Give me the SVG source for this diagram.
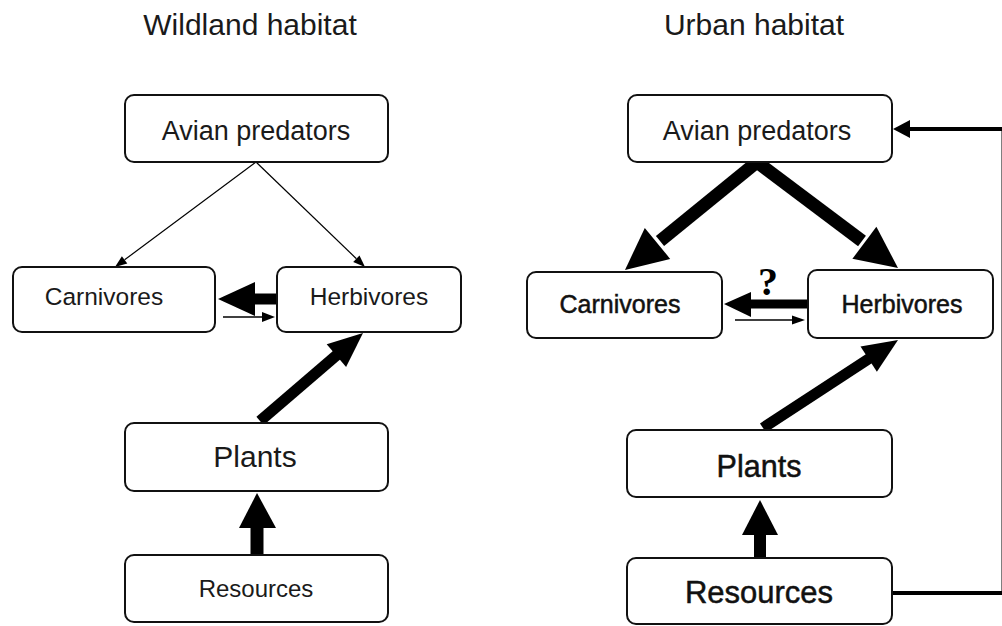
<svg xmlns="http://www.w3.org/2000/svg" width="1002" height="626" viewBox="0 0 1002 626">
<style>
.box{fill:#fff;stroke:#111;stroke-width:2}
.t{font-family:"Liberation Sans",Arial,sans-serif;fill:#1a1a1a;text-anchor:middle}
.tb{font-family:"Liberation Sans",Arial,sans-serif;fill:#111;text-anchor:middle;stroke:#111;stroke-width:0.5}
.ln{stroke:#000;fill:none}
.hd{fill:#000}
</style>
<rect width="1002" height="626" fill="#fff"/>
<text class="t" x="250" y="35" font-size="30">Wildland habitat</text>
<text class="t" x="754" y="35" font-size="30">Urban habitat</text>

<g id="connectors">
  <!-- left -->
  <line class="ln" x1="256" y1="162" x2="124.6" y2="259.8" stroke-width="1.2"/>
  <polygon class="hd" points="115,267 127.3,263.4 121.9,256.2"/>
  <line class="ln" x1="256" y1="162" x2="356.4" y2="258.7" stroke-width="1.2"/>
  <polygon class="hd" points="365,267 353.2,261.9 359.5,255.4"/>
  <line class="ln" x1="277" y1="299" x2="250" y2="299" stroke-width="11"/>
  <polygon class="hd" points="218,299 255,282 255,316"/>
  <line class="ln" x1="223" y1="317" x2="263" y2="317" stroke-width="1.5"/>
  <polygon class="hd" points="275,317 262,312 262,322"/>
  <line class="ln" x1="260" y1="421" x2="338" y2="354" stroke-width="11"/>
  <polygon class="hd" points="363,333 346.1,367.1 326.7,344.3"/>
  <line class="ln" x1="257" y1="555" x2="257" y2="526" stroke-width="13"/>
  <polygon class="hd" points="257,493 239,528 276,528"/>
  <!-- right -->
  <line class="ln" x1="757" y1="162" x2="660" y2="241" stroke-width="13"/>
  <polygon class="hd" points="625,270 670.2,258.9 644.8,227.9"/>
  <line class="ln" x1="757" y1="162" x2="862" y2="241" stroke-width="13"/>
  <polygon class="hd" points="898,268 852.4,258.8 876.4,226.8"/>
  <line class="ln" x1="808" y1="304" x2="748" y2="304" stroke-width="9"/>
  <polygon class="hd" points="724,304 751,292 751,317"/>
  <line class="ln" x1="735" y1="320" x2="793" y2="320" stroke-width="1.5"/>
  <polygon class="hd" points="805,320 792,315.5 792,324.5"/>
  <line class="ln" x1="763" y1="428" x2="870" y2="358" stroke-width="11"/>
  <polygon class="hd" points="898,340 876.9,371.7 860.5,346.5"/>
  <line class="ln" x1="760" y1="558" x2="760" y2="533" stroke-width="12"/>
  <polygon class="hd" points="760,500 742,535 778,535"/>
  <path class="ln" d="M892,593 H1003.5 V129 H906" stroke-width="4"/>
  <polygon class="hd" points="893,129 910,120 910,138"/>
  <text x="768" y="295" font-family="'Liberation Serif','Times New Roman',serif" font-weight="bold" font-size="40" text-anchor="middle" fill="#000">?</text>
</g>

<g id="w-avian"><rect class="box" x="125" y="95" width="263" height="67" rx="9"/><text class="t" x="256" y="140" font-size="27">Avian predators</text></g>
<g id="w-carnivores"><rect class="box" x="13" y="267" width="202" height="65" rx="9"/><text class="t" x="104" y="305" font-size="24.5">Carnivores</text></g>
<g id="w-herbivores"><rect class="box" x="277" y="267" width="184" height="65" rx="9"/><text class="t" x="369" y="305" font-size="24.5">Herbivores</text></g>
<g id="w-plants"><rect class="box" x="125" y="423" width="263" height="68" rx="9"/><text class="t" x="255" y="467" font-size="30">Plants</text></g>
<g id="w-resources"><rect class="box" x="125" y="555" width="263" height="67" rx="9"/><text class="t" x="256" y="597" font-size="24">Resources</text></g>

<g id="u-avian"><rect class="box" x="628" y="95" width="264" height="67" rx="9"/><text class="t" x="757" y="140" font-size="27">Avian predators</text></g>
<g id="u-carnivores"><rect class="box" x="527" y="272" width="195" height="66" rx="9"/><text class="tb" x="620" y="313" font-size="25">Carnivores</text></g>
<g id="u-herbivores"><rect class="box" x="808" y="270" width="185" height="68" rx="9"/><text class="tb" x="902" y="313" font-size="25">Herbivores</text></g>
<g id="u-plants"><rect class="box" x="627" y="430" width="265" height="67" rx="9"/><text class="tb" x="759" y="477" font-size="30.5">Plants</text></g>
<g id="u-resources"><rect class="box" x="627" y="558" width="265" height="66" rx="9"/><text class="tb" x="759" y="603" font-size="31">Resources</text></g>
</svg>
